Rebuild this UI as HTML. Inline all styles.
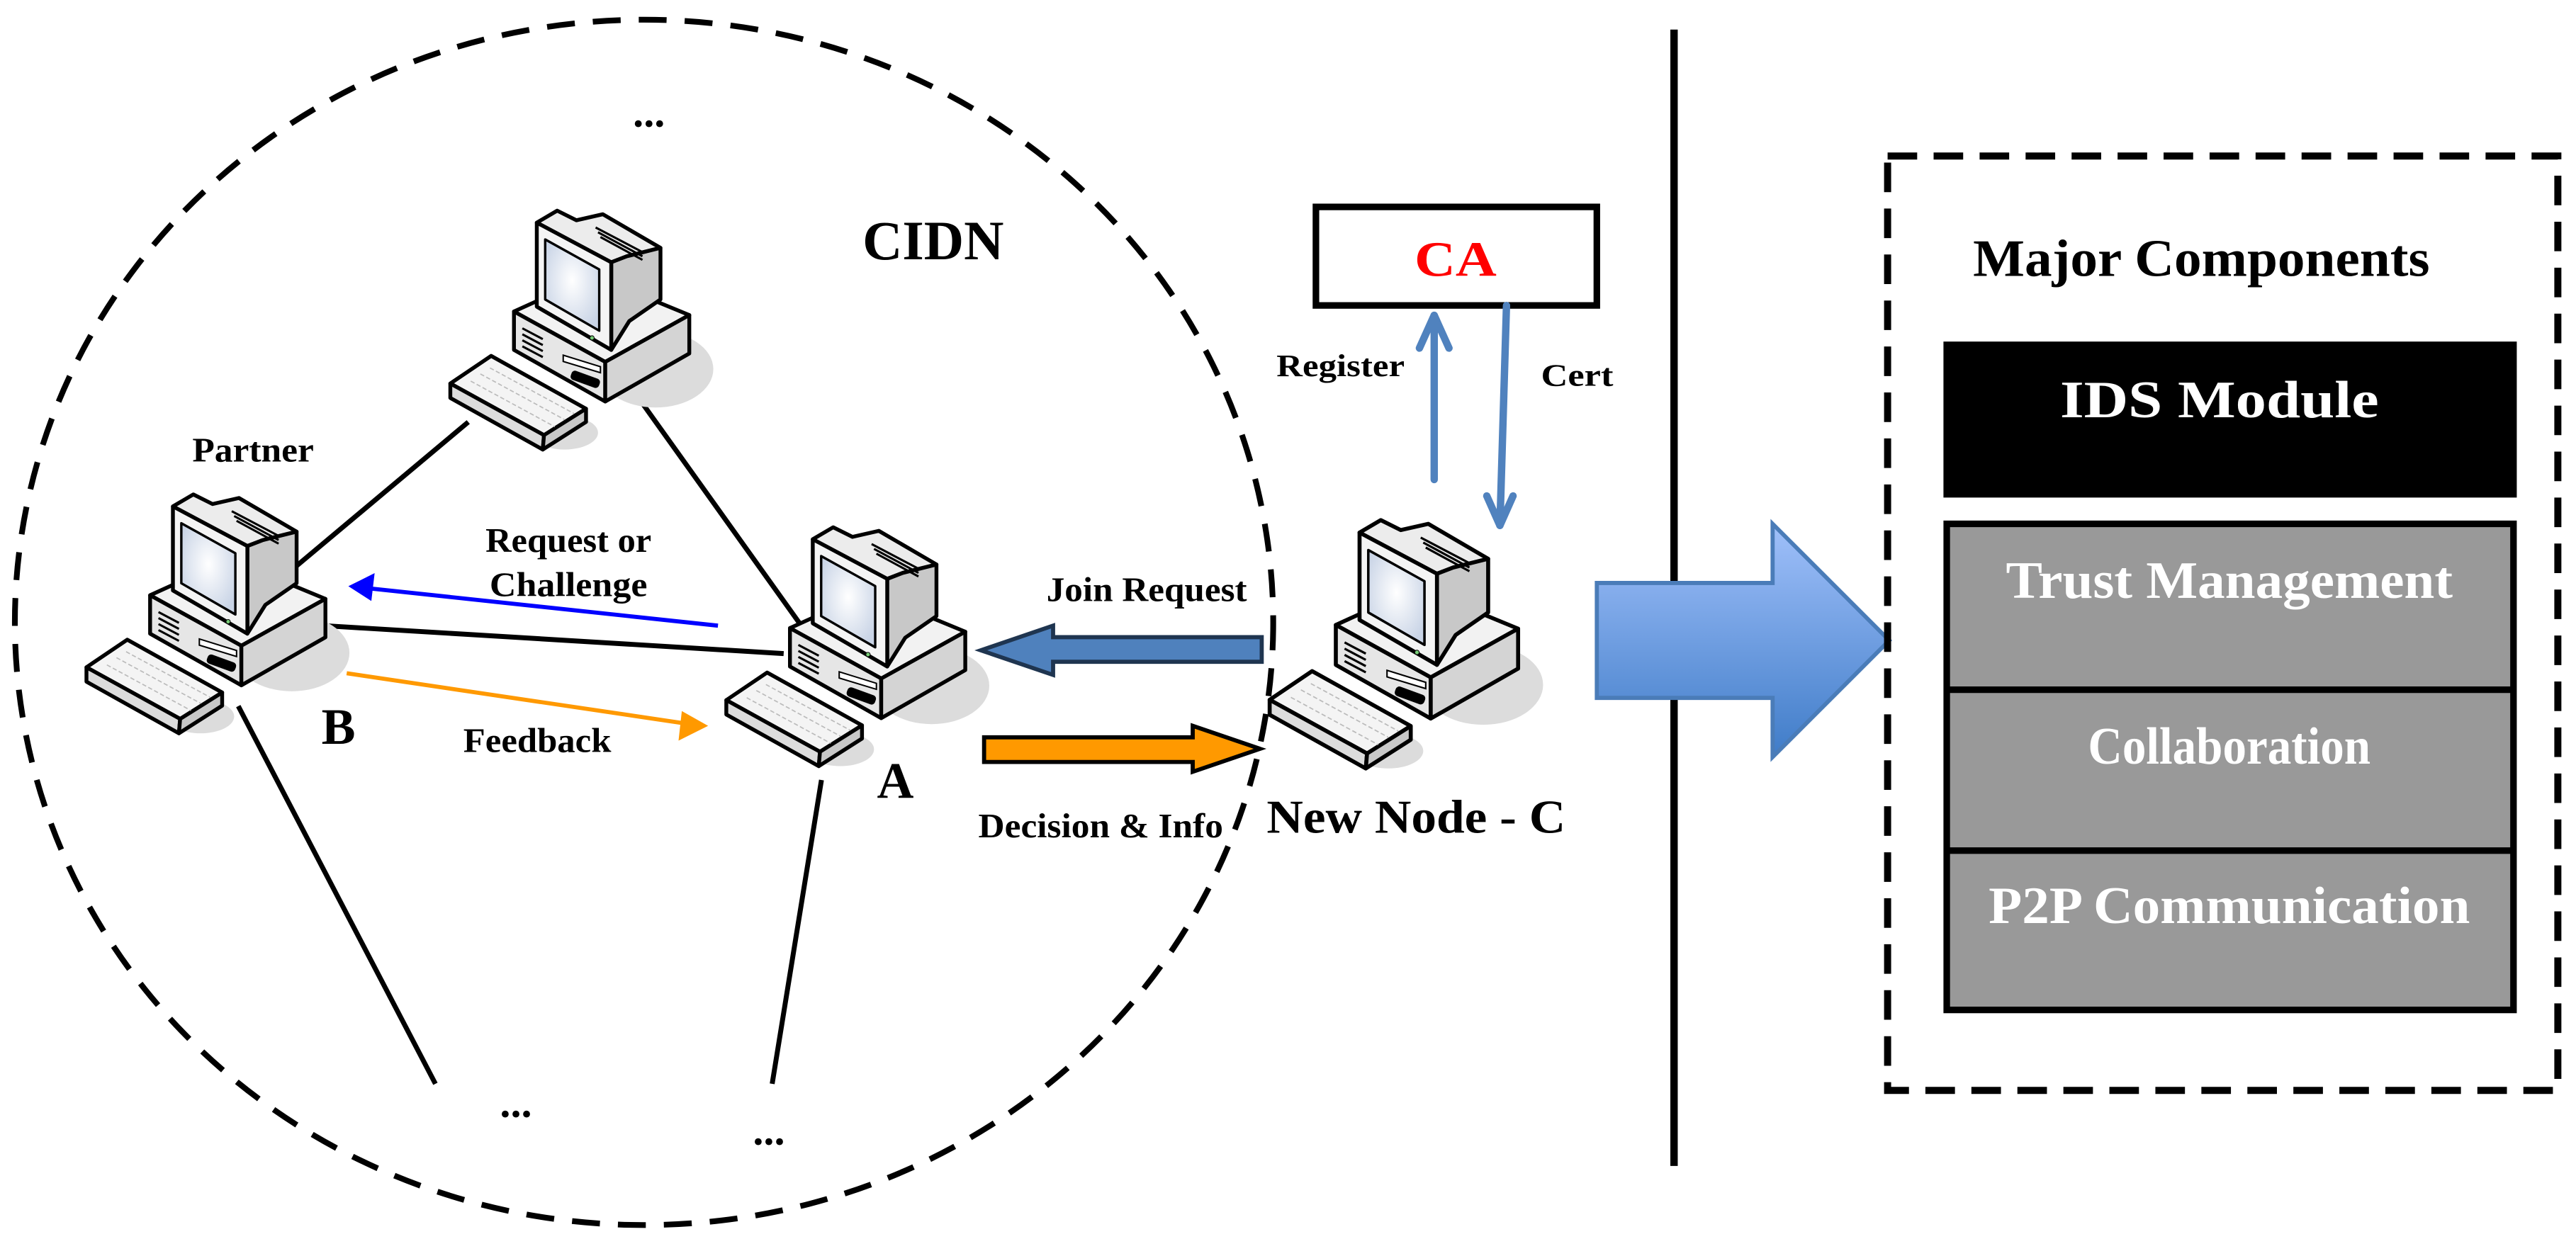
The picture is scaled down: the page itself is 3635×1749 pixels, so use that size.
<!DOCTYPE html>
<html><head><meta charset="utf-8"><style>
html,body{margin:0;padding:0;background:#fff;}
svg{display:block;}
text{font-family:"Liberation Serif",serif;font-weight:bold;}
</style></head><body>
<svg width="3635" height="1749" viewBox="0 0 1568 754.5" xmlns="http://www.w3.org/2000/svg">
<defs>
<linearGradient id="ag" x1="0" y1="0" x2="0" y2="1"><stop offset="0" stop-color="#a0c0fa"/><stop offset="1" stop-color="#3f7cc8"/></linearGradient>
<radialGradient id="scr" cx="0.5" cy="0.45" r="0.6"><stop offset="0" stop-color="#ffffff"/><stop offset="1" stop-color="#c9d4e6"/></radialGradient>
<g id="pc">
<ellipse cx="900" cy="770" rx="240" ry="160" fill="#dcdcdc"/>
<ellipse cx="520" cy="1035" rx="140" ry="70" fill="#dcdcdc"/>
<g stroke="#000" stroke-width="16" stroke-linejoin="round">
<polygon points="310,530 640,380 1040,545 690,740" fill="#f2f2f2"/>
<polygon points="310,530 690,740 690,905 310,690" fill="#e6e6e6"/>
<polygon points="690,740 1040,545 1040,705 690,905" fill="#d4d4d4"/>
<polygon points="405,160 490,110 570,150 680,125 920,265 780,300 715,325" fill="#ececec"/>
<polygon points="715,325 780,300 920,265 920,480 790,570 715,690" fill="#c8c8c8"/>
<polygon points="405,160 715,325 715,690 405,510" fill="#f4f4f4"/>
<polygon points="440,230 665,355 665,610 440,480" fill="url(#scr)" stroke-width="10"/>
<polygon points="45,830 215,715 610,935 435,1045" fill="#f4f4f4"/>
<polygon points="45,830 435,1045 430,1105 45,890" fill="#dcdcdc"/>
<polygon points="435,1045 610,935 610,990 430,1105" fill="#c8c8c8"/>
</g>
<g stroke="#bbb" stroke-width="5" stroke-dasharray="18 10">
<line x1="130" y1="820" x2="480" y2="1010"/><line x1="170" y1="790" x2="520" y2="980"/><line x1="210" y1="765" x2="560" y2="955"/>
</g>
<g stroke="#000" stroke-width="9">
<line x1="345" y1="600" x2="430" y2="645"/><line x1="345" y1="625" x2="430" y2="670"/><line x1="345" y1="650" x2="430" y2="695"/><line x1="345" y1="675" x2="430" y2="720"/>
<line x1="650" y1="180" x2="840" y2="280"/><line x1="660" y1="200" x2="845" y2="300"/><line x1="670" y1="220" x2="845" y2="315"/>
</g>
<rect x="545" y="790" width="125" height="40" rx="15" fill="#000" transform="rotate(20 600 810)"/>
<polygon points="515,712 670,760 670,785 515,738" fill="#fff" stroke="#000" stroke-width="6"/>
<circle cx="635" cy="640" r="9" fill="#7c7" stroke="#000" stroke-width="3"/>
</g>
</defs>

<ellipse cx="392" cy="379" rx="383" ry="367" fill="none" stroke="#000" stroke-width="3.5" stroke-dasharray="17 11"/>

<g stroke="#000" stroke-width="3">
<line x1="180" y1="345" x2="285" y2="257"/>
<line x1="387" y1="240" x2="487" y2="380"/>
<line x1="197" y1="381" x2="477" y2="398"/>
<line x1="145" y1="430" x2="265" y2="660"/>
<line x1="500" y1="475" x2="470" y2="660"/>
</g>

<use href="#pc" transform="translate(267.5,112.2) scale(0.1462)"/>
<use href="#pc" transform="translate(46,285) scale(0.1462)"/>
<use href="#pc" transform="translate(435.5,305) scale(0.1462)"/>
<use href="#pc" transform="translate(766,300) scale(0.152)"/>

<line x1="437" y1="381" x2="222" y2="358" stroke="#0000ff" stroke-width="2.5"/>
<polygon points="212,357 228,349 226,366" fill="#0000ff"/>
<line x1="211" y1="410" x2="420" y2="441" stroke="#ff9900" stroke-width="2.5"/>
<polygon points="431,442 415,433 413,451" fill="#ff9900"/>

<polygon points="597,396 641,381 641,388 768,388 768,403 641,403 641,411" fill="#4f81bd" stroke="#1f3550" stroke-width="2.5"/>
<polygon points="599,449 726,449 726,442 767,456 726,470 726,464 599,464" fill="#ff9900" stroke="#000" stroke-width="2.5"/>

<g lengthAdjust="spacingAndGlyphs">
<text x="395" y="77" font-size="26" text-anchor="middle">...</text>
<text x="568" y="158" font-size="34" text-anchor="middle" textLength="86" lengthAdjust="spacingAndGlyphs">CIDN</text>
<text x="154" y="281" font-size="21" text-anchor="middle" textLength="74" lengthAdjust="spacingAndGlyphs">Partner</text>
<text x="346" y="336" font-size="21" text-anchor="middle" textLength="101" lengthAdjust="spacingAndGlyphs">Request or</text>
<text x="346" y="363" font-size="21" text-anchor="middle" textLength="96" lengthAdjust="spacingAndGlyphs">Challenge</text>
<text x="327" y="458" font-size="21" text-anchor="middle" textLength="90" lengthAdjust="spacingAndGlyphs">Feedback</text>
<text x="206" y="453" font-size="31" text-anchor="middle">B</text>
<text x="545" y="486" font-size="31" text-anchor="middle">A</text>
<text x="698" y="366" font-size="21" text-anchor="middle" textLength="122" lengthAdjust="spacingAndGlyphs">Join Request</text>
<text x="670" y="510" font-size="21" text-anchor="middle" textLength="149" lengthAdjust="spacingAndGlyphs">Decision &amp; Info</text>
<text x="314" y="680" font-size="26" text-anchor="middle">...</text>
<text x="468" y="697" font-size="26" text-anchor="middle">...</text>
</g>

<rect x="801" y="126" width="171" height="60" fill="#fff" stroke="#000" stroke-width="4"/>
<text x="886" y="168" font-size="30" fill="#ff0000" text-anchor="middle" textLength="50" lengthAdjust="spacingAndGlyphs">CA</text>
<g stroke="#5082be" stroke-width="4.5" fill="none" stroke-linecap="round" stroke-linejoin="round">
<line x1="873" y1="292" x2="873" y2="192"/>
<polyline points="864,212 873,192 882,212"/>
<line x1="917" y1="186" x2="913" y2="320"/>
<polyline points="905,302 913,320 921,302"/>
</g>
<text x="816" y="229" font-size="19" text-anchor="middle" textLength="78" lengthAdjust="spacingAndGlyphs">Register</text>
<text x="960" y="235" font-size="19" text-anchor="middle" textLength="44" lengthAdjust="spacingAndGlyphs">Cert</text>
<text x="862" y="507" font-size="29" text-anchor="middle" textLength="182" lengthAdjust="spacingAndGlyphs">New Node - C</text>

<line x1="1019" y1="18" x2="1019" y2="710" stroke="#000" stroke-width="4.5"/>

<polygon points="972,355 1079,355 1079,319 1150,390 1079,461 1079,425 972,425" fill="url(#ag)" stroke="#4a7cb8" stroke-width="2.5"/>

<rect x="1149" y="95" width="408" height="569" fill="none" stroke="#000" stroke-width="4.3" stroke-dasharray="18 10"/>
<text x="1340" y="168" font-size="32" text-anchor="middle" textLength="278" lengthAdjust="spacingAndGlyphs">Major Components</text>
<rect x="1183" y="208" width="349" height="95" fill="#000"/>
<text x="1351" y="254" font-size="32" fill="#fff" text-anchor="middle" textLength="194" lengthAdjust="spacingAndGlyphs">IDS  Module</text>
<rect x="1185" y="319" width="345" height="296" fill="#999" stroke="#000" stroke-width="4"/>
<line x1="1185" y1="420" x2="1530" y2="420" stroke="#000" stroke-width="4"/>
<line x1="1185" y1="518" x2="1530" y2="518" stroke="#000" stroke-width="4"/>
<text x="1357" y="364" font-size="32" fill="#fff" text-anchor="middle" textLength="272" lengthAdjust="spacingAndGlyphs">Trust Management</text>
<text x="1357" y="465" font-size="32" fill="#fff" text-anchor="middle" textLength="172" lengthAdjust="spacingAndGlyphs">Collaboration</text>
<text x="1357" y="562" font-size="32" fill="#fff" text-anchor="middle" textLength="293" lengthAdjust="spacingAndGlyphs">P2P Communication</text>
</svg>
</body></html>
